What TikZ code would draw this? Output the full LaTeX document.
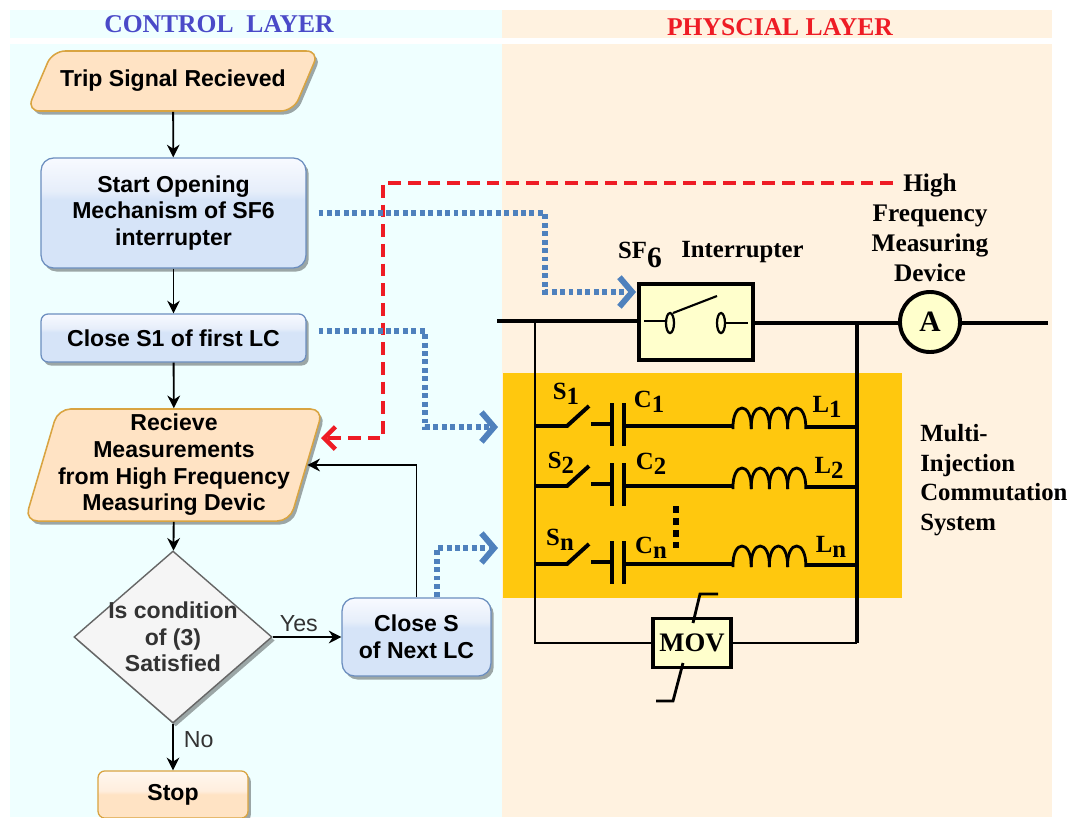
\documentclass[tikz,border=0pt]{standalone}
\usepackage{fontspec}
\setmainfont{Liberation Sans}
\newfontfamily\labelfont{Liberation Serif}
\usepackage{xcolor}
\usetikzlibrary{arrows.meta,positioning,shapes.geometric,shadows}

\definecolor{controlbg}{HTML}{EFFFFF}
\definecolor{physbg}{HTML}{FFF2E0}
\definecolor{bandcol}{HTML}{FFC80E}
\definecolor{movcol}{HTML}{FFFFCC}
\definecolor{dotblue}{HTML}{4F81BD}
\definecolor{redline}{HTML}{EE1C25}
\definecolor{blueedge}{HTML}{6C8EBF}
\definecolor{orangeedge}{HTML}{D9A441}
\definecolor{titleblue}{HTML}{4A4AC8}
\definecolor{blueA}{HTML}{D6E4F8}
\definecolor{blueB}{HTML}{E6EEFA}
\definecolor{blueC}{HTML}{F8FAFF}
\definecolor{orangeA}{HTML}{FFE3C4}
\definecolor{orangeB}{HTML}{FFEEDD}
\definecolor{orangeC}{HTML}{FFF8F0}
\pgfdeclareverticalshading{bluegloss}{100bp}{color(0bp)=(blueA); color(25bp)=(blueA); color(56bp)=(blueA); color(60bp)=(blueB); color(75bp)=(blueC); color(100bp)=(blueC)}
\pgfdeclareverticalshading{orangegloss}{100bp}{color(0bp)=(orangeA); color(25bp)=(orangeA); color(50bp)=(orangeA); color(54bp)=(orangeB); color(75bp)=(orangeC); color(100bp)=(orangeC)}

\begin{document}
\begin{tikzpicture}[
  x=0.025cm, y=-0.025cm,
  softshadow/.style={drop shadow={shadow xshift=2pt, shadow yshift=-2.5pt, opacity=0.35, fill=black}},
  flowtext/.style={font=\fontsize{16.4}{19}\selectfont\bfseries, align=center, text=black},
  glassbox/.style={rectangle, draw=#1, rounded corners=9pt, softshadow, flowtext, line width=0.9pt, inner sep=0pt},
  ioshape/.style={trapezium, trapezium stretches=true, draw=orangeedge, fill=orangeA, rounded corners=9pt, softshadow, flowtext, line width=1.1pt, inner sep=0pt},
  arr/.style={-{Stealth[length=9pt, width=9pt]}, line width=1.3pt},
  bluedot/.style={line width=4.6pt, draw=dotblue, dash pattern=on 3.5pt off 2.5pt, -{Straight Barb[length=9pt, width=21pt, line width=4.2pt]}},
  reddash/.style={line width=3.2pt, draw=redline, dash pattern=on 9pt off 5pt, -{Straight Barb[length=8pt, width=16pt, line width=3.2pt]}},
  serif/.style={font=\labelfont\fontsize{17.6}{21.2}\selectfont\bfseries, text=black, inner sep=0pt},
  edgetext/.style={font=\fontsize{16.5}{19}\selectfont, text=black!80, inner sep=0pt},
  titletext/.style={font=\labelfont\fontsize{18.2}{21}\selectfont\bfseries, inner sep=0pt},
  wire/.style={line width=2.8pt},
  thinwire/.style={line width=2pt}
]
\useasboundingbox (0,0) rectangle (1079,817);

% Layer backgrounds
\fill[controlbg] (10,10) rectangle (502,38);
\fill[controlbg] (10,44) rectangle (502,817);
\fill[physbg] (502,10) rectangle (1052,38);
\fill[physbg] (502,44) rectangle (1052,817);
\fill[bandcol] (503,373) rectangle (902,598);

% Layer titles
\node[titletext, text=titleblue] (controltitle) at (219,24) {CONTROL\ \ LAYER};
\node[titletext, text=redline] (phystitle) at (780,27) {PHYSCIAL LAYER};

% Flowchart
\node[ioshape, trapezium left angle=42, trapezium right angle=138, minimum width=7.32cm, minimum height=1.5cm] (trip) at (173,81) {Trip Signal Recieved};
\node[glassbox=blueedge, shading=bluegloss, minimum width=6.62cm, minimum height=2.75cm] (start) at (173.5,213) {Start Opening\\Mechanism of SF6\\interrupter};
\node[glassbox=blueedge, shading=bluegloss, rounded corners=5pt, minimum width=6.62cm, minimum height=1.2cm] (closeone) at (173.5,338) {Close S1 of first LC};
\node[ioshape, trapezium left angle=72, trapezium right angle=108, minimum width=7.35cm, minimum height=2.8cm] (recv) at (174,465) {Recieve\\Measurements\\from High Frequency\\Measuring Devic};
\node[diamond, draw=black!60, fill=black!4, line width=1pt, softshadow, minimum width=4.95cm, minimum height=4.3cm, inner sep=0pt,
  label={[flowtext, text=black!80, inner sep=0pt]center:Is condition\\of (3)\\Satisfied}] (cond) at (173,637) {};
\node[glassbox=blueedge, shading=bluegloss, minimum width=3.72cm, minimum height=1.95cm] (closenext) at (416.5,637) {Close S\\of Next LC};
\node[glassbox=orangeedge, shading=orangegloss, rounded corners=5pt, minimum width=3.75cm, minimum height=1.18cm] (stop) at (173,794.5) {Stop};

\draw[arr] (trip) -- (start);
\draw[arr] (start) -- (closeone);
\draw[arr] (closeone) -- (recv);
\draw[arr] (recv) -- (cond);
\draw[arr] (cond) -- node[above=3pt, edgetext, pos=0.38] (yes) {Yes} (closenext);
\draw[arr] (cond) -- node[right=7pt, edgetext, pos=0.35] (no) {No} (stop);
\draw[arr] (closenext.north) |- (recv.east);

% Main line with interrupter and meter
\node[draw, fill=movcol, line width=2.6pt, minimum width=2.85cm, minimum height=1.9cm, inner sep=0pt] (sfbox) at (696,322) {};
\node[circle, draw, fill=movcol, line width=2.8pt, minimum size=1.5cm, inner sep=0pt, font=\labelfont\fontsize{21}{24}\selectfont\bfseries] (meter) at (930,322) {A};
\node[draw, fill=movcol, line width=2.6pt, minimum width=1.95cm, minimum height=1.22cm, inner sep=0pt, font=\labelfont\fontsize{19}{22}\selectfont\bfseries] (mov) at (692,643) {MOV};
\coordinate (leftend) at (497,321);
\coordinate (leftbus) at (535,321);
\coordinate (rightbus) at (857,323);
\coordinate (rightend) at (1048,323);
\coordinate (rightfoot) at (857,643);
\draw[wire] (leftend) -- (leftend -| sfbox.west);
\draw[wire] (rightbus -| sfbox.east) -- (rightbus) -- (rightbus -| meter.west);
\draw[wire] (rightbus -| meter.east) -- (rightend);

% Switch inside the interrupter
\draw[line width=1.5pt] (644,321) -- (666,321);
\draw[line width=1.5pt] (726,323) -- (748,323);
\draw[line width=1.6pt] (670,323) ellipse (4 and 10);
\draw[line width=1.6pt] (721,323) ellipse (4 and 10);
\draw[line width=1.5pt] (673,313) -- (717,296);

% Buses and MOV
\draw[thinwire] (leftbus) |- (mov.west);
\draw[wire, line width=3.4pt] (rightbus) -- (rightfoot);
\draw[thinwire] (rightfoot) -- (mov.east);
\draw[line width=2pt] (693,623) -- (700,594) -- (718,594);
\draw[line width=2pt] (683,663) -- (673,701) -- (656,701);

% LC branches
\foreach \y in {426,486,564} {
  \draw[wire] (535,\y) -- (567,\y) -- (589,{\y-20});
  \draw[wire] (591,{\y-2}) -- (611,{\y-2});
  \draw[line width=2.2pt] (612,{\y-23}) -- (612,{\y+20});
  \draw[line width=2.2pt] (624,{\y-23}) -- (624,{\y+20});
  \draw[wire] (624,\y) -- (733,\y);
  \foreach \k in {0,1,2,3}
    \draw[line width=2pt] ({733+18.2*\k},{\y+3}) .. controls ({733+18.2*\k-1},{\y-25}) and ({733+18.2*\k+19},{\y-25}) .. ({733+18.2*\k+18.2},{\y+3});
  \draw[wire] (806,{\y+1}) -- (857,{\y+1});
}
\draw[line width=4pt, dash pattern=on 5pt off 3.5pt] (676,506) -- (676,548);

% Component labels
\newcommand{\partlabel}[2]{#1\raisebox{-3.5pt}{#2}}
\node[serif] (sone) at (566,394) {\partlabel{S}{1}};
\node[serif] (cone) at (649,402) {\partlabel{C}{1}};
\node[serif] (lone) at (827,407) {\partlabel{L}{1}};
\node[serif] (stwo) at (561,463) {\partlabel{S}{2}};
\node[serif] (ctwo) at (651,464) {\partlabel{C}{2}};
\node[serif] (ltwo) at (829,468) {\partlabel{L}{2}};
\node[serif] (sn) at (560,540) {\partlabel{S}{n}};
\node[serif] (cn) at (651,548) {\partlabel{C}{n}};
\node[serif] (ln) at (831,547) {\partlabel{L}{n}};
\node[serif] (sfsix) at (640,255) {SF\raisebox{-7pt}{\fontsize{21}{21}\selectfont 6}};
\node[serif, anchor=west] (interrupter) at (681,252) {Interrupter};
\node[serif, font=\labelfont\fontsize{18}{21.2}\selectfont\bfseries, align=center] (hfm) at (930,228) {High\\Frequency\\Measuring\\Device};
\node[serif, align=left, anchor=west] (mics) at (920,480) {Multi-\\Injection\\Commutation\\System};

% Signal lines
\coordinate (redstart) at (893,183);
\coordinate (redin) at (321,438);
\draw[reddash] (redstart) -| (383,438) -- (redin);
\coordinate (sfin) at (636,292);
\coordinate (bandinone) at (498,427);
\coordinate (bandintwo) at (498,548);
\draw[bluedot] ([xshift=8.5pt]start.east) -| (545,292) -- (sfin);
\draw[bluedot] ([xshift=8.5pt, yshift=5pt]closeone.east) -| (425,427) -- (bandinone);
\draw[bluedot] ([xshift=14.5pt]closenext.north) |- (bandintwo);
\end{tikzpicture}
\end{document}
